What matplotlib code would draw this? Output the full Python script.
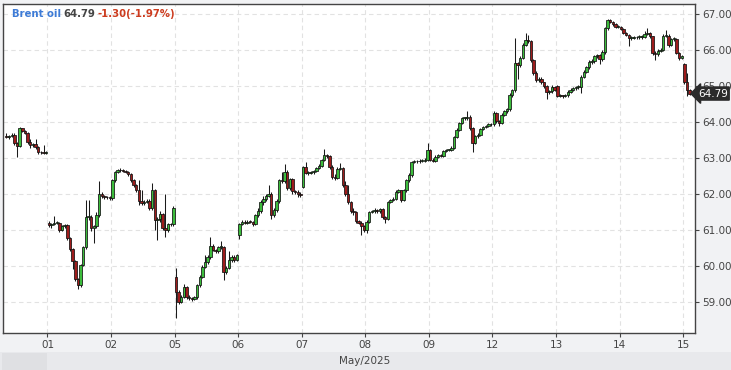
import matplotlib

matplotlib.use("Agg")
import matplotlib.pyplot as plt
import numpy as np
from matplotlib.patches import Rectangle

# trading days shown on the x axis (May 2025), 24 hourly candles per day
tick_labels = ["01", "02", "05", "06", "07", "08", "09", "12", "13", "14", "15"]

# hourly candles per session: closes, highs, lows; open of the first candle
apr30_close = [63.58, 63.60, 63.65, 63.42, 63.33, 63.82, 63.76, 63.70, 63.45, 63.35, 63.38, 63.30, 63.17, 63.15, 63.14, 63.14]
apr30_high = [63.68, 63.64, 63.70, 63.68, 63.45, 63.85, 63.84, 63.78, 63.72, 63.52, 63.42, 63.52, 63.32, 63.20, 63.35, 63.18]
apr30_low = [63.55, 63.52, 63.57, 63.35, 63.02, 63.30, 63.72, 63.66, 63.40, 63.28, 63.30, 63.25, 63.12, 63.10, 63.10, 63.10]

may01_close = [61.12, 61.15, 61.20, 61.20, 61.00, 61.10, 61.12, 60.77, 60.46, 60.14, 59.63, 59.46, 60.02, 60.52, 61.35, 61.35, 61.05, 61.10, 61.40, 62.00, 61.95, 61.90, 61.90, 61.88]
may01_high = [61.25, 61.20, 61.38, 61.25, 61.22, 61.14, 61.16, 61.15, 60.80, 60.50, 60.16, 59.66, 60.05, 60.56, 61.83, 61.82, 61.40, 61.14, 61.50, 62.36, 62.04, 61.97, 61.94, 61.93]
may01_low = [61.08, 61.06, 61.12, 61.15, 60.95, 60.96, 61.05, 60.72, 60.40, 59.90, 59.58, 59.35, 59.42, 59.98, 60.48, 61.28, 60.98, 60.63, 61.05, 61.36, 61.88, 61.85, 61.85, 61.84]

may02_close = [62.38, 62.61, 62.65, 62.66, 62.63, 62.62, 62.55, 62.38, 62.25, 62.10, 61.80, 61.75, 61.78, 61.80, 61.60, 62.10, 61.27, 61.30, 61.45, 61.05, 61.00, 61.15, 61.15, 61.62]
may02_high = [62.42, 62.64, 62.70, 62.72, 62.68, 62.66, 62.64, 62.58, 62.40, 62.28, 62.38, 62.12, 61.84, 61.86, 61.85, 62.30, 62.14, 61.35, 61.52, 61.48, 62.00, 61.20, 61.20, 61.66]
may02_low = [61.84, 62.34, 62.58, 62.60, 62.60, 62.58, 62.50, 62.34, 62.20, 62.05, 61.70, 61.70, 61.70, 61.74, 61.55, 61.55, 61.00, 60.72, 61.22, 61.00, 60.80, 60.95, 61.10, 61.10]

may05_close = [59.28, 59.00, 59.13, 59.42, 59.13, 59.10, 59.07, 59.12, 59.46, 59.69, 59.97, 60.11, 60.25, 60.55, 60.45, 60.40, 60.52, 60.52, 59.83, 59.95, 60.15, 60.25, 60.15, 60.30]
may05_high = [59.94, 59.32, 59.18, 59.50, 59.45, 59.18, 59.14, 59.16, 59.50, 59.73, 60.02, 60.30, 60.30, 60.81, 60.60, 60.48, 60.56, 60.70, 60.56, 59.98, 60.40, 60.30, 60.30, 60.34]
may05_low = [58.55, 58.95, 58.96, 59.10, 59.08, 59.05, 59.02, 59.04, 59.08, 59.42, 59.65, 59.93, 60.06, 60.20, 60.40, 60.35, 60.36, 60.48, 59.60, 59.78, 59.90, 60.10, 60.10, 60.12]

may06_close = [61.16, 61.22, 61.20, 61.23, 61.22, 61.15, 61.41, 61.52, 61.77, 61.85, 61.95, 62.00, 61.41, 61.55, 61.80, 62.38, 62.36, 62.61, 62.16, 62.40, 62.08, 62.05, 62.00, 61.97]
may06_high = [61.20, 61.26, 61.26, 61.28, 61.26, 61.25, 61.45, 61.60, 61.82, 61.95, 62.00, 62.25, 62.04, 61.60, 61.85, 62.42, 62.60, 62.83, 62.65, 62.45, 62.45, 62.12, 62.10, 62.05]
may06_low = [60.75, 61.12, 61.15, 61.15, 61.18, 61.10, 61.12, 61.36, 61.48, 61.70, 61.80, 61.90, 61.30, 61.35, 61.50, 61.75, 62.30, 62.30, 62.10, 62.10, 62.00, 62.00, 61.92, 61.90]

may07_close = [62.75, 62.58, 62.58, 62.60, 62.63, 62.72, 62.78, 62.94, 63.08, 63.05, 62.75, 62.47, 62.45, 62.70, 62.72, 62.24, 62.00, 61.77, 61.52, 61.50, 61.24, 61.20, 61.10, 61.00]
may07_high = [62.78, 62.88, 62.63, 62.63, 62.66, 62.76, 62.82, 62.98, 63.24, 63.12, 63.08, 62.80, 62.55, 62.74, 62.85, 62.76, 62.35, 62.25, 61.80, 61.60, 61.52, 61.28, 61.24, 61.12]
may07_low = [62.15, 62.54, 62.52, 62.55, 62.56, 62.60, 62.70, 62.75, 62.90, 63.00, 62.70, 62.40, 62.38, 62.40, 62.66, 62.18, 61.95, 61.72, 61.48, 61.42, 61.20, 61.15, 60.85, 60.95]

may08_close = [61.22, 61.49, 61.52, 61.55, 61.52, 61.58, 61.35, 61.30, 61.77, 61.82, 61.85, 62.05, 62.10, 61.83, 62.10, 62.38, 62.52, 62.88, 62.90, 62.90, 62.92, 62.92, 62.95, 63.22]
may08_high = [61.26, 61.53, 61.56, 61.60, 61.58, 61.62, 61.60, 61.38, 61.80, 61.86, 61.90, 62.10, 62.14, 62.12, 62.14, 62.42, 62.58, 62.92, 62.95, 62.94, 62.96, 62.96, 63.00, 63.41]
may08_low = [60.90, 61.18, 61.46, 61.48, 61.48, 61.48, 61.30, 61.18, 61.26, 61.74, 61.80, 61.82, 62.02, 61.78, 61.80, 62.05, 62.34, 62.48, 62.85, 62.86, 62.86, 62.88, 62.88, 62.90]

may09_close = [62.95, 62.92, 63.03, 63.07, 63.06, 63.18, 63.22, 63.22, 63.27, 63.58, 63.77, 63.97, 64.10, 64.10, 64.15, 63.83, 63.41, 63.60, 63.65, 63.80, 63.85, 63.88, 63.95, 63.93]
may09_high = [63.26, 63.00, 63.08, 63.12, 63.10, 63.22, 63.26, 63.26, 63.32, 63.62, 63.82, 64.00, 64.14, 64.14, 64.30, 64.18, 63.86, 63.64, 63.70, 63.84, 63.88, 63.92, 63.98, 63.98]
may09_low = [62.90, 62.88, 62.88, 63.00, 63.02, 63.02, 63.15, 63.18, 63.18, 63.24, 63.55, 63.74, 63.94, 64.05, 64.06, 63.78, 63.16, 63.38, 63.56, 63.62, 63.78, 63.82, 63.85, 63.88]

may12_close = [64.25, 64.02, 63.98, 64.20, 64.30, 64.35, 64.75, 64.88, 65.63, 65.58, 65.78, 66.14, 66.28, 66.25, 65.72, 65.36, 65.17, 65.20, 65.10, 65.00, 64.83, 64.85, 64.97, 64.90]
may12_high = [64.30, 64.28, 64.06, 64.24, 64.34, 64.40, 64.80, 64.92, 66.33, 65.68, 65.82, 66.20, 66.47, 66.42, 66.28, 65.76, 65.42, 65.24, 65.24, 65.12, 65.04, 64.90, 65.02, 65.00]
may12_low = [63.88, 63.98, 63.90, 63.95, 64.16, 64.26, 64.30, 64.70, 64.84, 65.20, 65.52, 65.74, 66.10, 66.20, 65.68, 65.30, 65.12, 65.12, 65.05, 64.95, 64.65, 64.78, 64.80, 64.86]

may13_close = [64.72, 64.73, 64.72, 64.74, 64.84, 64.90, 64.93, 64.97, 64.97, 65.26, 65.39, 65.52, 65.67, 65.70, 65.83, 65.85, 65.75, 65.95, 66.60, 66.83, 66.78, 66.73, 66.65, 66.65]
may13_high = [65.02, 64.78, 64.76, 64.78, 64.88, 64.94, 64.97, 65.00, 65.02, 65.30, 65.44, 65.56, 65.72, 65.75, 65.87, 65.90, 65.88, 66.00, 66.64, 66.86, 66.86, 66.80, 66.76, 66.70]
may13_low = [64.68, 64.68, 64.66, 64.68, 64.70, 64.80, 64.86, 64.88, 64.92, 64.80, 65.22, 65.35, 65.48, 65.62, 65.65, 65.78, 65.60, 65.70, 65.90, 66.55, 66.74, 66.68, 66.60, 66.60]

may14_close = [66.58, 66.47, 66.42, 66.33, 66.33, 66.35, 66.36, 66.37, 66.37, 66.45, 66.47, 66.38, 65.92, 65.88, 65.98, 66.00, 66.40, 66.40, 66.14, 66.30, 66.32, 65.92, 65.78, 65.83]
may14_high = [66.68, 66.62, 66.50, 66.45, 66.38, 66.40, 66.40, 66.42, 66.42, 66.52, 66.60, 66.50, 66.40, 65.96, 66.02, 66.05, 66.44, 66.55, 66.44, 66.34, 66.36, 66.34, 65.95, 65.86]
may14_low = [66.55, 66.44, 66.38, 66.10, 66.28, 66.30, 66.30, 66.32, 66.32, 66.33, 66.42, 66.34, 65.85, 65.72, 65.84, 65.94, 65.96, 66.35, 66.08, 66.10, 66.25, 65.88, 65.72, 65.74]

may15_close = [65.10, 64.88, 64.79]
may15_high = [65.64, 65.35, 64.92]
may15_low = [65.05, 64.72, 64.74]

session_day = [-1, 0, 1, 2, 3, 4, 5, 6, 7, 8, 9, 10]
session_first_open = [63.62, 61.20, 61.88, 59.69, 60.85, 62.19, 61.00, 63.22, 63.93, 65.00, 66.65, 65.62]
session_close = [apr30_close, may01_close, may02_close, may05_close, may06_close, may07_close,
                 may08_close, may09_close, may12_close, may13_close, may14_close, may15_close]
session_high = [apr30_high, may01_high, may02_high, may05_high, may06_high, may07_high,
                may08_high, may09_high, may12_high, may13_high, may14_high, may15_high]
session_low = [apr30_low, may01_low, may02_low, may05_low, may06_low, may07_low,
               may08_low, may09_low, may12_low, may13_low, may14_low, may15_low]

last_price = "64.79"
change_text = "-1.30(-1.97%)"

UP = "#3cbc3c"
DOWN = "#9e1c1c"

fig = plt.figure(figsize=(7.31, 3.70), dpi=100, facecolor="#f1f2f4")
W, H = 731, 370
ax = fig.add_axes([3 / W, (H - 333) / H, (695 - 3) / W, (333 - 4) / H])
ax.set_facecolor("white")

for day, first_open, c, hi, lo in zip(session_day, session_first_open,
                                      session_close, session_high, session_low):
    c = np.asarray(c)
    o = np.r_[first_open, c[:-1]]
    start = day * 24 if day >= 0 else -len(c)
    x = start + np.arange(len(c)) + 0.5
    colors = [UP if cc >= oo else DOWN for oo, cc in zip(o, c)]
    ax.vlines(x, lo, hi, color="#1a1a1a", linewidth=0.75, zorder=2)
    ax.bar(x, np.maximum(np.abs(c - o), 0.025), bottom=np.minimum(o, c), width=0.92,
           color=colors, edgecolor="#111111", linewidth=0.55, zorder=3)

ax.set_xlim(-16.8, 244.5)
ax.set_ylim(58.13, 67.28)
ax.set_xticks(np.arange(len(tick_labels)) * 24)
ax.set_xticklabels(tick_labels)
ax.set_yticks(np.arange(59, 68))
ax.yaxis.set_major_formatter(matplotlib.ticker.FormatStrFormatter("%.2f"))
ax.yaxis.tick_right()
ax.tick_params(axis="both", direction="out", length=3, width=0.8, color="#444444",
               labelsize=7.5, labelcolor="#444444", pad=2)
ax.grid(True, color="#e2e2e2", linestyle=(0, (4, 3)), linewidth=0.8, zorder=0)
ax.set_axisbelow(True)
for sp in ax.spines.values():
    sp.set_color("#444444")
    sp.set_linewidth(1.0)

# last price tag on the right axis
ax.text(1.004, 64.79, last_price, transform=ax.get_yaxis_transform(), ha="left", va="center",
        fontsize=7.5, color="white", zorder=10, clip_on=False,
        bbox=dict(boxstyle="larrow,pad=0.15", facecolor="#2b2b2b", edgecolor="#2b2b2b"))

# header: instrument, price, change
fig.canvas.draw()
renderer = fig.canvas.get_renderer()
tx = 12 / W
for s, col in [("Brent oil", "#3d7bd6"), (last_price, "#444444"), (change_text, "#cc3b1e")]:
    t = fig.text(tx, 1 - 14 / H, s, color=col, fontsize=7.3, fontweight="bold", va="center", ha="left")
    bb = t.get_window_extent(renderer)
    tx = (bb.x1 + 2) / W

# bottom period bar
fig.patches.append(Rectangle((0, 0), 1, 18 / H, transform=fig.transFigure, facecolor="#e8e9ec",
                             edgecolor="none", zorder=0))
fig.patches.append(Rectangle((2 / W, 0), 45 / W, 17 / H, transform=fig.transFigure,
                             facecolor="#dfe0e3", edgecolor="none", zorder=0))
fig.text(365 / W, 9 / H, "May/2025", ha="center", va="center", fontsize=7.5, color="#444444")

fig.savefig("out.png", dpi=100, facecolor=fig.get_facecolor())
